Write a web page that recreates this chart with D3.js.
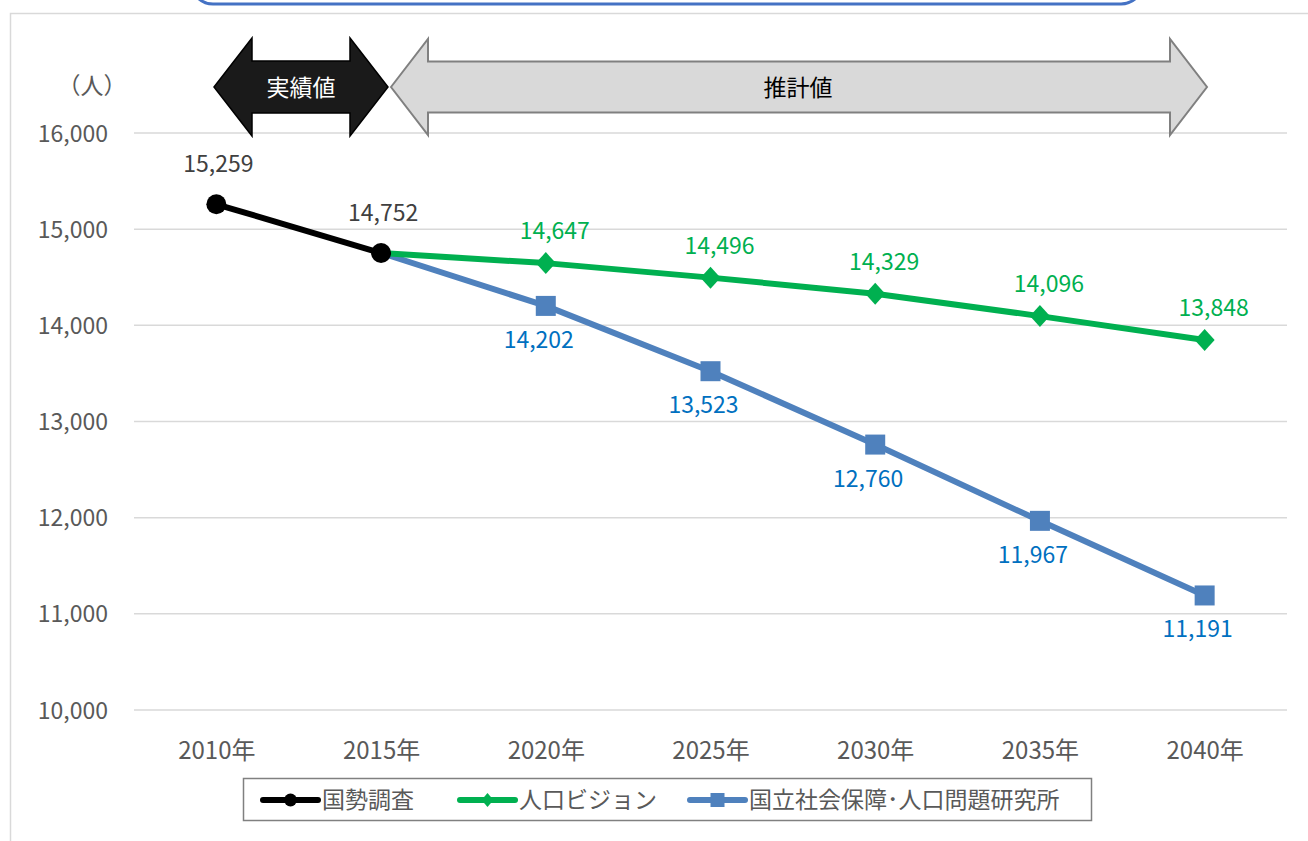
<!DOCTYPE html>
<html><head><meta charset="utf-8">
<script src="https://cdn.jsdelivr.net/npm/d3@7"></script>
<style>body{margin:0;background:#fff}svg{display:block}text{font-family:"Noto Sans CJK JP","Noto Sans",sans-serif}</style>
</head><body><svg id="c" width="1308" height="841"></svg>
<script>
const years = ["2010年","2015年","2020年","2025年","2030年","2035年","2040年"];
const censusYears = ["2010年","2015年"];
const censusValues = [15259, 14752];
const visionYears = ["2015年","2020年","2025年","2030年","2035年","2040年"];
const visionValues = [14752, 14647, 14496, 14329, 14096, 13848];
const ipssYears = ["2015年","2020年","2025年","2030年","2035年","2040年"];
const ipssValues = [14752, 14202, 13523, 12760, 11967, 11191];
const yTicks = [10000, 11000, 12000, 13000, 14000, 15000, 16000];
const seriesNames = ["国勢調査", "人口ビジョン", "国立社会保障･人口問題研究所"];

const FS = 23;
const svg = d3.select("#c");
const fmt = d3.format(",");
const x = d3.scalePoint().domain(years).range([134, 1287]).padding(0.5);
const y = d3.scaleLinear().domain([10000, 16000]).range([710, 133]);

// outer frame
svg.append("rect").attr("x",10.5).attr("y",13.5).attr("width",1320).attr("height",900)
  .attr("fill","none").attr("stroke","#D9D9D9").attr("stroke-width",1.5);
// top rounded box
svg.append("rect").attr("x",191).attr("y",-40).attr("width",952).attr("height",44).attr("rx",22)
  .attr("fill","none").attr("stroke","#4472C4").attr("stroke-width",3);

// gridlines
svg.append("g").selectAll("line").data(yTicks).join("line")
  .attr("x1",134).attr("x2",1287).attr("y1",d=>y(d)).attr("y2",d=>y(d))
  .attr("stroke","#D9D9D9").attr("stroke-width",1.5);

// y axis labels
const yAxis = d3.axisLeft(y).tickValues(yTicks).tickFormat(fmt).tickSize(0).tickPadding(0);
const gy = svg.append("g").attr("transform","translate(108,0)").call(yAxis);
gy.select(".domain").remove();
gy.selectAll("text").attr("fill","#595959").attr("font-size",FS).attr("font-family",'"Noto Sans CJK JP",sans-serif').attr("dy","0.35em");
svg.append("text").attr("x",92).attr("y",94).attr("text-anchor","middle").attr("fill","#595959")
  .attr("font-size",FS).text("（人）");

// x axis labels
const xAxis = d3.axisBottom(x).tickSize(0).tickPadding(0);
const gx = svg.append("g").attr("transform","translate(0,759)").call(xAxis);
gx.select(".domain").remove();
gx.selectAll("text").attr("fill","#595959").attr("font-size",24).attr("font-family",'"Noto Sans CJK JP",sans-serif').attr("dy","0");

// arrows
function dblArrow(x0, x1, hw, yc, half, shaftHalf){
  return `M${x0},${yc} L${x0+hw},${yc-half} L${x0+hw},${yc-shaftHalf} L${x1-hw},${yc-shaftHalf} L${x1-hw},${yc-half} L${x1},${yc} L${x1-hw},${yc+half} L${x1-hw},${yc+shaftHalf} L${x0+hw},${yc+shaftHalf} L${x0+hw},${yc+half} Z`;
}
svg.append("path").attr("d",dblArrow(214,388,38,87,49,26)).attr("fill","#1A1A1A").attr("stroke","#000").attr("stroke-width",1.5);
svg.append("text").attr("x",301).attr("y",96).attr("text-anchor","middle").attr("fill","#fff").attr("font-size",FS).text("実績値");
svg.append("path").attr("d",dblArrow(391,1207,37,87,48,25.5)).attr("fill","#D9D9D9").attr("stroke","#808080").attr("stroke-width",2);
svg.append("text").attr("x",798).attr("y",96).attr("text-anchor","middle").attr("fill","#000").attr("font-size",FS).text("推計値");

const line = d3.line().x(d=>x(d[0])).y(d=>y(d[1]));
const blue = "#4F81BD", green = "#00B050", black = "#000";

// blue series
const ipss = ipssYears.map((d,i)=>[d, ipssValues[i]]);
svg.append("path").datum(ipss).attr("d",line).attr("fill","none").attr("stroke",blue).attr("stroke-width",6).attr("stroke-linejoin","round");
svg.append("g").selectAll("rect").data(ipss.slice(1)).join("rect")
  .attr("x",d=>x(d[0])-10).attr("y",d=>y(d[1])-10).attr("width",20).attr("height",20).attr("fill",blue);
svg.append("g").selectAll("text").data(ipss.slice(1)).join("text")
  .attr("x",d=>x(d[0])-7).attr("y",d=>y(d[1])+42).attr("text-anchor","middle").attr("fill","#0070C0").attr("font-size",FS).text(d=>fmt(d[1]));

// green series
const vis = visionYears.map((d,i)=>[d, visionValues[i]]);
svg.append("path").datum(vis).attr("d",line).attr("fill","none").attr("stroke",green).attr("stroke-width",6).attr("stroke-linejoin","round");
svg.append("g").selectAll("path").data(vis.slice(1)).join("path")
  .attr("d",d=>{const cx=x(d[0]),cy=y(d[1]);return `M${cx},${cy-11}L${cx+10},${cy}L${cx},${cy+11}L${cx-10},${cy}Z`;}).attr("fill",green);
svg.append("g").selectAll("text").data(vis.slice(1)).join("text")
  .attr("x",d=>x(d[0])+9).attr("y",d=>y(d[1])-24).attr("text-anchor","middle").attr("fill",green).attr("font-size",FS).text(d=>fmt(d[1]));

// black series
const cen = censusYears.map((d,i)=>[d, censusValues[i]]);
svg.append("path").datum(cen).attr("d",line).attr("fill","none").attr("stroke",black).attr("stroke-width",6);
svg.append("g").selectAll("circle").data(cen).join("circle")
  .attr("cx",d=>x(d[0])).attr("cy",d=>y(d[1])).attr("r",10).attr("fill",black);
svg.append("g").selectAll("text").data(cen).join("text")
  .attr("x",d=>x(d[0])+2).attr("y",d=>y(d[1])-32).attr("text-anchor","middle").attr("fill","#404040").attr("font-size",FS).text(d=>fmt(d[1]));

// legend
svg.append("rect").attr("x",243.5).attr("y",778.5).attr("width",848).attr("height",42).attr("fill","#fff").attr("stroke","#808080").attr("stroke-width",1.5);
const lg = [
  {x:263, color:black, name:seriesNames[0], m:"circle"},
  {x:460, color:green, name:seriesNames[1], m:"diamond"},
  {x:690, color:blue, name:seriesNames[2], m:"square"}
];
const ly = 800;
lg.forEach(l=>{
  svg.append("line").attr("x1",l.x).attr("x2",l.x+55).attr("y1",ly).attr("y2",ly).attr("stroke",l.color).attr("stroke-width",6).attr("stroke-linecap","round");
  const cx = l.x+27.5;
  if(l.m==="circle") svg.append("circle").attr("cx",cx).attr("cy",ly).attr("r",6.5).attr("fill",l.color);
  if(l.m==="diamond") svg.append("path").attr("d",`M${cx},${ly-7}L${cx+6},${ly}L${cx},${ly+7}L${cx-6},${ly}Z`).attr("fill",l.color);
  if(l.m==="square") svg.append("rect").attr("x",cx-7).attr("y",ly-7).attr("width",14).attr("height",14).attr("fill",l.color);
  svg.append("text").attr("x",l.x+59).attr("y",ly+8).attr("fill","#595959").attr("font-size",FS).text(l.name);
});
</script></body></html>
